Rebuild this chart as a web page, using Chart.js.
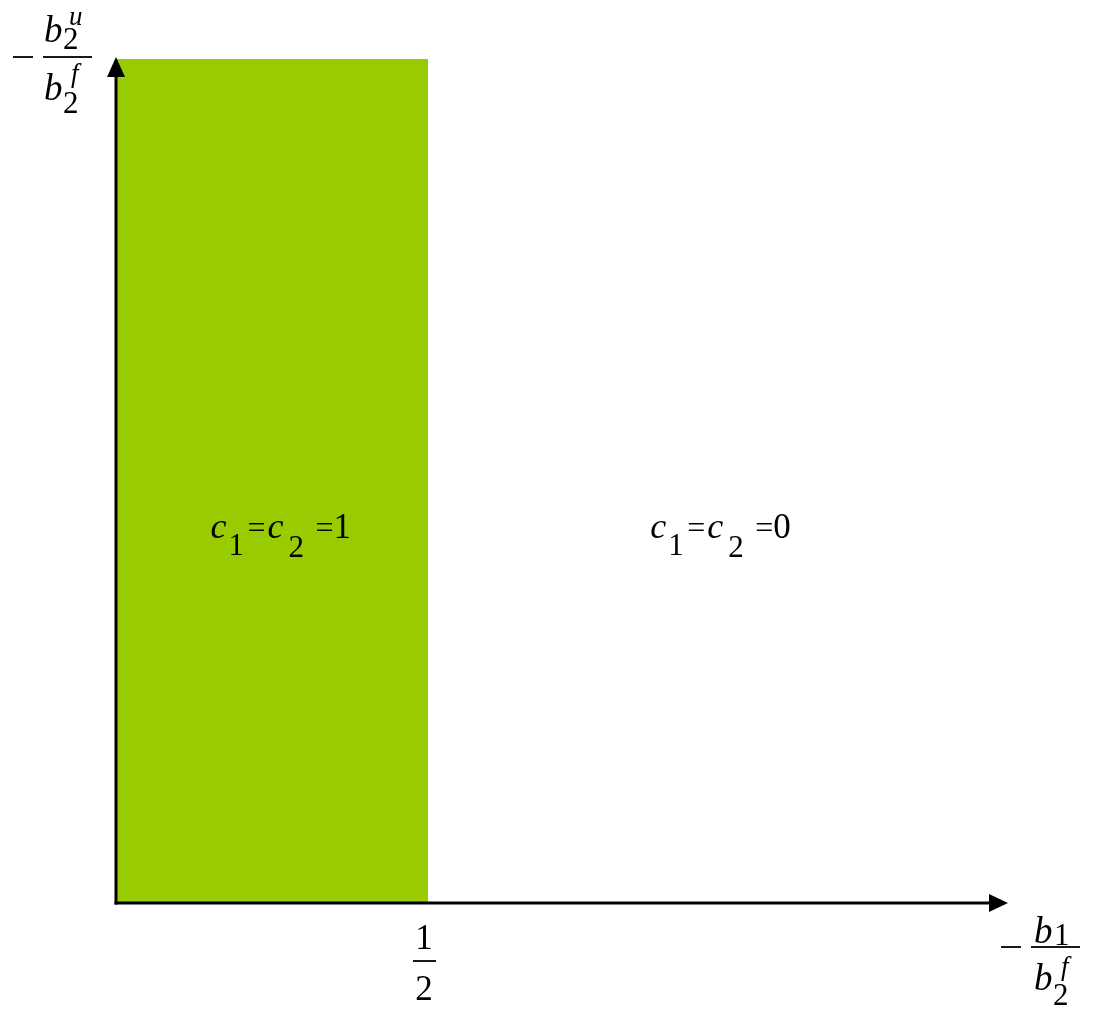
<!DOCTYPE html>
<html lang="en">
<head>
    <meta charset="UTF-8">
    <title>Region chart</title>
    <style>
        html, body {
            margin: 0;
            padding: 0;
            background: #FFFFFF;
        }
        #chartContainer {
            width: 1096px;
            height: 1011px;
        }
    </style>
    <script src="https://cdn.jsdelivr.net/npm/chart.js"></script>
</head>
<body>
    <div id="chartContainer">
        <canvas id="myChart"></canvas>
    </div>

    <script>
        // data: the shaded region runs from x = 0 to x = 1/2 over the whole y range
        var regionX = [0, 0.5];
        var regionY = [1, 1];
        var xMax = 1.4325;
        var yMax = 1;

        // tick shown under the x axis
        var tickValues = [0.5];
        var tickNum = ['1'];
        var tickDen = ['2'];

        // region labels (value position and the value of c1 = c2)
        var labelX = [0.263, 0.97];
        var labelY = [0.44, 0.44];
        var labelValue = ['1', '0'];

        var serif = '"Liberation Serif", "Times New Roman", serif';

        // draws a list of glyphs: [text, dx, dy, size, italic]
        function drawGlyphs(ctx, x, y, glyphs) {
            glyphs.forEach(function(g) {
                ctx.font = (g[4] ? 'italic ' : '') + g[3] + 'px ' + serif;
                ctx.fillText(g[0], x + g[1], y + g[2]);
            });
        }

        function hLine(ctx, x1, x2, y, w) {
            ctx.fillRect(x1, y - w / 2, x2 - x1, w);
        }

        var axesPlugin = {
            id: 'axesPlugin',
            afterDatasetsDraw: function(chart) {
                var ctx = chart.ctx;
                var xs = chart.scales.x;
                var ys = chart.scales.y;
                var area = chart.chartArea;
                var x0 = xs.getPixelForValue(0) - 1;
                var y0 = ys.getPixelForValue(0);

                ctx.save();
                ctx.fillStyle = '#000000';
                ctx.strokeStyle = '#000000';
                ctx.lineWidth = 3;
                ctx.textBaseline = 'alphabetic';
                ctx.textAlign = 'left';

                // y axis with arrow
                var tipY = area.top - 2;
                ctx.beginPath();
                ctx.moveTo(x0, y0 + 1.5);
                ctx.lineTo(x0, tipY + 15);
                ctx.stroke();
                ctx.beginPath();
                ctx.moveTo(x0, tipY);
                ctx.lineTo(x0 - 9, tipY + 20);
                ctx.lineTo(x0 + 9, tipY + 20);
                ctx.closePath();
                ctx.fill();

                // x axis with arrow
                var tipX = area.right;
                ctx.beginPath();
                ctx.moveTo(x0 - 1.5, y0);
                ctx.lineTo(tipX - 15, y0);
                ctx.stroke();
                ctx.beginPath();
                ctx.moveTo(tipX, y0);
                ctx.lineTo(tipX - 19, y0 - 9);
                ctx.lineTo(tipX - 19, y0 + 9);
                ctx.closePath();
                ctx.fill();

                // tick labels as fractions
                tickValues.forEach(function(v, i) {
                    var px = xs.getPixelForValue(v) - 4;
                    ctx.textAlign = 'center';
                    drawGlyphs(ctx, px, y0, [
                        [tickNum[i], 0, 46, 35, false],
                        [tickDen[i], 0, 97, 35, false]
                    ]);
                    hLine(ctx, px - 11, px + 12, y0 + 58, 1.8);
                });
                ctx.textAlign = 'left';

                // y axis title: - b2^u / b2^f
                var ty = area.top - 2;
                hLine(ctx, x0 - 103, x0 - 83, ty, 1.8);
                hLine(ctx, x0 - 73, x0 - 24, ty, 1.8);
                drawGlyphs(ctx, x0 - 72, ty, [
                    ['b', 0, -15, 37, true],
                    ['2', 19, -8, 31, false],
                    ['u', 25, -32, 27, true],
                    ['b', 0, 43, 37, true],
                    ['2', 19, 56, 31, false],
                    ['f', 27, 25, 27, true]
                ]);

                // x axis title: - b1 / b2^f
                var tx = area.right;
                var by = y0 + 44;
                hLine(ctx, tx - 7, tx + 13, by, 1.8);
                hLine(ctx, tx + 23, tx + 72, by, 1.8);
                drawGlyphs(ctx, tx + 26, by, [
                    ['b', 0, -4, 37, true],
                    ['1', 20, -2, 31, false],
                    ['b', 0, 43, 37, true],
                    ['2', 19, 58, 31, false],
                    ['f', 27, 28, 27, true]
                ]);

                // region labels c1 = c2 = value
                labelX.forEach(function(v, i) {
                    var lx = xs.getPixelForValue(v) - 70;
                    var ly = ys.getPixelForValue(labelY[i]) + 6;
                    drawGlyphs(ctx, lx, ly, [
                        ['c', 0, 0, 36, true],
                        ['1', 18, 17, 31, false],
                        ['=', 37, 0, 32, false],
                        ['c', 57, 0, 36, true],
                        ['2', 78, 19, 31, false],
                        ['=', 105, 0, 32, false],
                        [labelValue[i], 123, 0, 35, false]
                    ]);
                });

                ctx.restore();
            }
        };

        var ctx = document.getElementById('myChart').getContext('2d');
        var myChart = new Chart(ctx, {
            type: 'line',
            data: {
                datasets: [{
                    data: regionX.map(function(x, i) { return { x: x, y: regionY[i] }; }),
                    fill: 'origin',
                    backgroundColor: '#99CC00',
                    borderWidth: 0,
                    pointRadius: 0,
                    tension: 0
                }]
            },
            options: {
                responsive: true,
                maintainAspectRatio: false,
                animation: false,
                layout: {
                    padding: { left: 117, right: 88, top: 59, bottom: 108 }
                },
                plugins: {
                    legend: { display: false },
                    tooltip: { enabled: false }
                },
                scales: {
                    x: { type: 'linear', min: 0, max: xMax, display: false },
                    y: { type: 'linear', min: 0, max: yMax, display: false }
                }
            },
            plugins: [axesPlugin]
        });
    </script>
</body>
</html>
